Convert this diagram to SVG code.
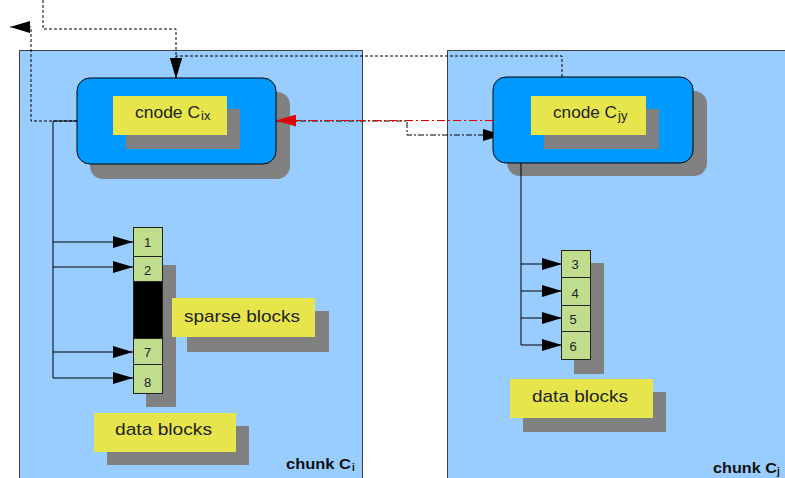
<svg xmlns="http://www.w3.org/2000/svg" width="785" height="478" viewBox="0 0 785 478">
<style>
.chunk{fill:#99CCFF;stroke:#404040;stroke-width:1}
.cnode{fill:#0099FF;stroke:#000;stroke-width:1}
.shadow{fill:#808080}
.label{fill:#E6E64C}
.blk{fill:#BFDD8C;stroke:#222;stroke-width:1}
.t{font-family:"Liberation Sans",Arial,sans-serif;font-size:17px;fill:#222}
.sub{font-family:"Liberation Sans",Arial,sans-serif;font-size:13px;fill:#222}
.num{font-family:"Liberation Sans",Arial,sans-serif;font-size:13px;fill:#222;text-anchor:middle}
.ct{font-family:"Liberation Sans",Arial,sans-serif;font-size:15px;font-weight:bold;fill:#111}
.cs{font-family:"Liberation Sans",Arial,sans-serif;font-size:10px;font-weight:bold;fill:#111}
.dash{fill:none;stroke:#000;stroke-width:1;stroke-dasharray:3,2}
.solid{fill:none;stroke:#000;stroke-width:1}
.dd{fill:none;stroke:#000;stroke-width:1;stroke-dasharray:6,2,2,2}
.red{fill:none;stroke:#E00000;stroke-width:1;stroke-dasharray:8,3,2,3}
</style>
<defs>
<marker id="ah" markerUnits="userSpaceOnUse" markerWidth="20" markerHeight="12" refX="20" refY="6" orient="auto" viewBox="0 0 20 12">
<path d="M0,0 L20,6 L0,12 z" fill="#000"/>
</marker>
<marker id="ahb" markerUnits="userSpaceOnUse" markerWidth="10" markerHeight="12" refX="10" refY="6" orient="auto" viewBox="0 0 10 12">
<path d="M0,0 L10,3 L10,9 L0,12 z" fill="#000"/>
</marker>
<marker id="ahr" markerUnits="userSpaceOnUse" markerWidth="20" markerHeight="12" refX="20" refY="6" orient="auto" viewBox="0 0 20 12">
<path d="M0,0 L20,6 L0,12 z" fill="#E00000"/>
</marker>
</defs>

<g id="chunk-ci">
<rect class="chunk" x="19.5" y="50.5" width="343" height="440"/>
<text class="ct" x="286" y="469" textLength="65" lengthAdjust="spacingAndGlyphs">chunk C</text>
<text class="cs" x="352" y="471">i</text>
</g>
<g id="chunk-cj">
<rect class="chunk" x="447.5" y="50.5" width="350" height="440"/>
<text class="ct" x="713" y="473" textLength="64" lengthAdjust="spacingAndGlyphs">chunk C</text>
<text class="cs" x="777" y="475">j</text>
</g>

<g id="cnode-cix">
<rect class="shadow" x="90" y="92" width="200" height="87" rx="13"/>
<rect class="cnode" x="77" y="78" width="199" height="86" rx="13"/>
<rect class="shadow" x="126" y="109" width="114" height="40"/>
<rect class="label" x="113" y="96" width="114" height="39"/>
<text class="t" x="135" y="118" textLength="65" lengthAdjust="spacingAndGlyphs">cnode C</text>
<text class="sub" x="201" y="120">ix</text>
</g>

<g id="cnode-cjy">
<rect class="shadow" x="507" y="91" width="200" height="85" rx="13"/>
<rect class="cnode" x="493" y="77" width="200" height="86" rx="13"/>
<rect class="shadow" x="544" y="109" width="115" height="40"/>
<rect class="label" x="531" y="96" width="115" height="39"/>
<text class="t" x="553" y="118" textLength="64" lengthAdjust="spacingAndGlyphs">cnode C</text>
<text class="sub" x="618" y="120">jy</text>
</g>

<g id="blocks-left">
<rect class="shadow" x="146" y="265" width="30" height="142"/>
<rect class="blk" x="133.5" y="227.5" width="29" height="29"/>
<rect class="blk" x="133.5" y="256.5" width="29" height="25"/>
<rect x="133.5" y="281.5" width="29" height="57" fill="#000" stroke="#222"/>
<rect class="blk" x="133.5" y="338.5" width="29" height="26"/>
<rect class="blk" x="133.5" y="364.5" width="29" height="29"/>
<text class="num" x="147.5" y="247">1</text>
<text class="num" x="147.5" y="275">2</text>
<text class="num" x="147.5" y="357">7</text>
<text class="num" x="147.5" y="387">8</text>
</g>

<g id="blocks-right">
<rect class="shadow" x="574" y="263" width="30" height="111"/>
<rect class="blk" x="561.5" y="250.5" width="29" height="27"/>
<rect class="blk" x="561.5" y="277.5" width="29" height="28"/>
<rect class="blk" x="561.5" y="305.5" width="29" height="26"/>
<rect class="blk" x="561.5" y="331.5" width="29" height="28"/>
<text class="num" x="575" y="269">3</text>
<text class="num" x="575" y="298">4</text>
<text class="num" x="573" y="324">5</text>
<text class="num" x="573" y="351">6</text>
</g>

<g id="label-sparse">
<rect class="shadow" x="187" y="311" width="142" height="41"/>
<rect class="label" x="172" y="298" width="143" height="39"/>
<text class="t" x="184" y="322" textLength="116" lengthAdjust="spacingAndGlyphs">sparse blocks</text>
</g>

<g id="label-data-left">
<rect class="shadow" x="107" y="426" width="142" height="39"/>
<rect class="label" x="94" y="413" width="142" height="39"/>
<text class="t" x="115" y="435" textLength="97" lengthAdjust="spacingAndGlyphs">data blocks</text>
</g>

<g id="label-data-right">
<rect class="shadow" x="523" y="392" width="143" height="40"/>
<rect class="label" x="510" y="379" width="143" height="39"/>
<text class="t" x="532" y="402" textLength="96" lengthAdjust="spacingAndGlyphs">data blocks</text>
</g>

<g id="connectors">
<path class="dash" d="M43,0 V29 H176 V78" marker-end="url(#ah)"/>
<path class="dash" d="M562,77 V56 H176 V78" marker-end="url(#ah)"/>
<path class="dash" d="M77,121 H31 V27 H10" marker-end="url(#ah)"/>
<path class="solid" d="M77,121 H53 V378 H133" marker-end="url(#ah)"/>
<path class="solid" d="M53,242 H133" marker-end="url(#ah)"/>
<path class="solid" d="M53,267 H133" marker-end="url(#ah)"/>
<path class="solid" d="M53,352 H133" marker-end="url(#ah)"/>
<path class="solid" d="M521,163 V345 H562" marker-end="url(#ah)"/>
<path class="solid" d="M521,264 H562" marker-end="url(#ah)"/>
<path class="solid" d="M521,291 H562" marker-end="url(#ah)"/>
<path class="solid" d="M521,318 H562" marker-end="url(#ah)"/>
<path class="dd" d="M276,121 H407 V135 H493" marker-end="url(#ahb)"/>
<path class="red" d="M493,120.5 H276" marker-end="url(#ahr)"/>
</g>
</svg>
